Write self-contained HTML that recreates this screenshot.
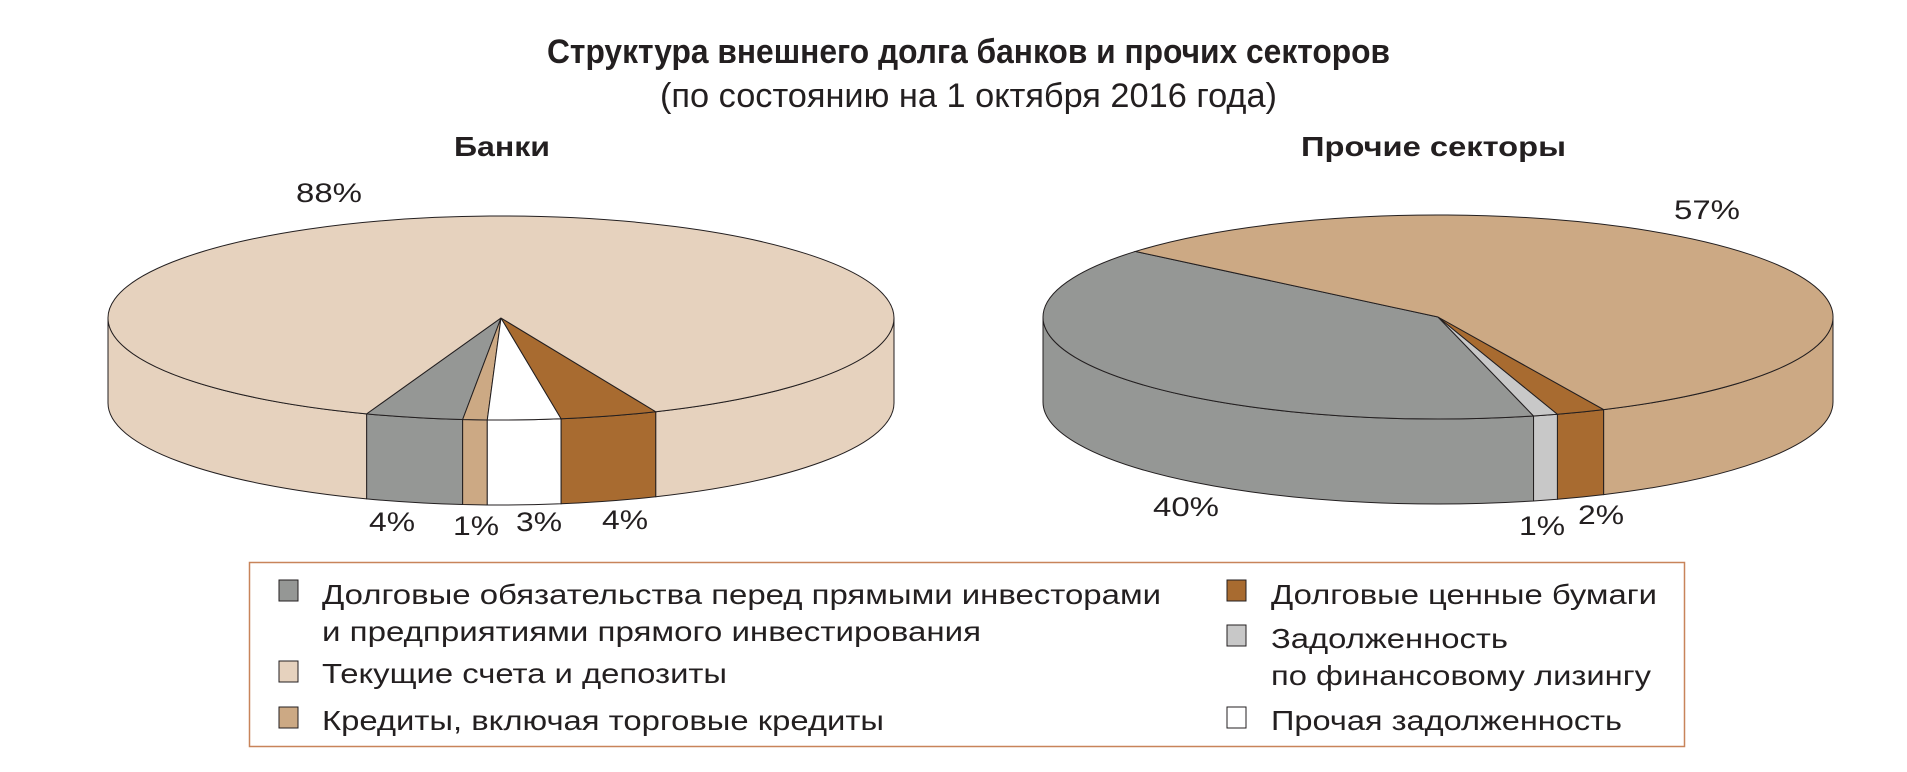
<!DOCTYPE html>
<html><head><meta charset="utf-8"><style>
html,body{margin:0;padding:0;background:#fff;width:1907px;height:772px;overflow:hidden}
svg{display:block}
text{font-family:"Liberation Sans Narrow","Liberation Sans",sans-serif;fill:#231f20}
</style></head><body>
<svg id="s" width="1907" height="772" viewBox="0 0 1907 772" xmlns="http://www.w3.org/2000/svg">
<g id="pies" stroke="#231f20" stroke-width="1"></g>
<text x="547" y="63" font-size="34" font-weight="bold" textLength="843" lengthAdjust="spacingAndGlyphs">Структура внешнего долга банков и прочих секторов</text>
<text x="660" y="107" font-size="34" textLength="617" lengthAdjust="spacingAndGlyphs">(по состоянию на 1 октября 2016 года)</text>
<text x="454" y="156" font-size="28" font-weight="bold" textLength="96" lengthAdjust="spacingAndGlyphs">Банки</text>
<text x="1301" y="156" font-size="28" font-weight="bold" textLength="265" lengthAdjust="spacingAndGlyphs">Прочие секторы</text>
<g font-size="27">
<text x="296" y="202" textLength="66" lengthAdjust="spacingAndGlyphs">88%</text>
<text x="369" y="531" textLength="46" lengthAdjust="spacingAndGlyphs">4%</text>
<text x="453" y="535" textLength="46" lengthAdjust="spacingAndGlyphs">1%</text>
<text x="516" y="531" textLength="46" lengthAdjust="spacingAndGlyphs">3%</text>
<text x="602" y="529" textLength="46" lengthAdjust="spacingAndGlyphs">4%</text>
<text x="1674" y="219" textLength="66" lengthAdjust="spacingAndGlyphs">57%</text>
<text x="1153" y="516" textLength="66" lengthAdjust="spacingAndGlyphs">40%</text>
<text x="1519" y="535" textLength="46" lengthAdjust="spacingAndGlyphs">1%</text>
<text x="1578" y="524" textLength="46" lengthAdjust="spacingAndGlyphs">2%</text>
</g>
<rect x="249.5" y="562.5" width="1435" height="184" fill="none" stroke="#c8845a" stroke-width="1.5"/>
<g stroke="#231f20" stroke-width="1">
<rect x="279" y="580" width="19" height="21" fill="#959795"/>
<rect x="279" y="661" width="19" height="21" fill="#e6d2be"/>
<rect x="279" y="707" width="19" height="21" fill="#cca984"/>
<rect x="1227" y="580" width="19" height="21" fill="#a86b30"/>
<rect x="1227" y="625" width="19" height="21" fill="#c8c8c8"/>
<rect x="1227" y="707" width="19" height="21" fill="#ffffff"/>
</g>
<g font-size="28">
<text x="322" y="604" textLength="839" lengthAdjust="spacingAndGlyphs">Долговые обязательства перед прямыми инвесторами</text>
<text x="322" y="641" textLength="659" lengthAdjust="spacingAndGlyphs">и предприятиями прямого инвестирования</text>
<text x="322" y="683" textLength="405" lengthAdjust="spacingAndGlyphs">Текущие счета и депозиты</text>
<text x="322" y="730" textLength="562" lengthAdjust="spacingAndGlyphs">Кредиты, включая торговые кредиты</text>
<text x="1271" y="604" textLength="386" lengthAdjust="spacingAndGlyphs">Долговые ценные бумаги</text>
<text x="1271" y="648" textLength="237" lengthAdjust="spacingAndGlyphs">Задолженность</text>
<text x="1271" y="685" textLength="380" lengthAdjust="spacingAndGlyphs">по финансовому лизингу</text>
<text x="1271" y="730" textLength="351" lengthAdjust="spacingAndGlyphs">Прочая задолженность</text>
</g>
</svg>
<script>
(function(){
var g=document.getElementById('pies');
function pie(cx,cy,rx,ry,d,sl){
 function P(t,dy){var r=t*Math.PI/180;return [cx+rx*Math.sin(r),cy+ry*Math.cos(r)+(dy||0)];}
 function f(p){return p[0].toFixed(2)+' '+p[1].toFixed(2);}
 var sides='',tops='';
 sl.forEach(function(s){
  [-360,0,360].forEach(function(off){
   var a=Math.max(s[0]+off,-90),b=Math.min(s[1]+off,90);
   if(b>a){
    var p1=P(a),p2=P(b),q2=P(b,d),q1=P(a,d);
    sides+='<path fill="'+s[2]+'" d="M'+f(p1)+' A'+rx+' '+ry+' 0 0 0 '+f(p2)+' L'+f(q2)+' A'+rx+' '+ry+' 0 0 1 '+f(q1)+' Z"/>';
   }
  });
  var large=(s[1]-s[0])>180?1:0;
  tops+='<path fill="'+s[2]+'" d="M'+cx+' '+cy+' L'+f(P(s[0]))+' A'+rx+' '+ry+' 0 '+large+' 0 '+f(P(s[1]))+' Z"/>';
 });
 return sides+tops;
}
var h='';
h+=pie(501,318,393,102,85,[
 [-20,-5.6,'#959795'],[-5.6,-2,'#cca984'],[-2,8.8,'#ffffff'],[8.8,23.2,'#a86b30'],[23.2,340,'#e6d2be']]);
h+=pie(1438,317,395,102,85,[
 [-130,14,'#959795'],[14,17.6,'#c8c8c8'],[17.6,24.8,'#a86b30'],[24.8,230,'#cca984']]);
g.innerHTML=h;
})();
</script>
</body></html>
